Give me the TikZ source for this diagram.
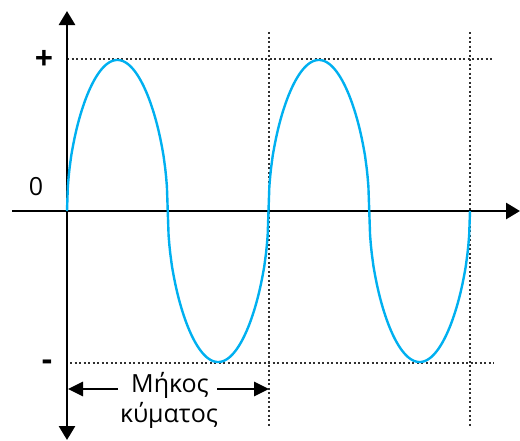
\documentclass[tikz,border=0pt]{standalone}
\usepackage{fontspec}
\setmainfont{Open Sans}
\usetikzlibrary{arrows.meta}
\definecolor{wavecol}{HTML}{00B0F0}
\definecolor{dotcol}{HTML}{303030}
\tikzset{
  axisline/.style={line width=2.8pt,black,-{Triangle[length=14pt,width=16pt]}},
  guide/.style={line width=1.6pt,dotcol,dash pattern=on 2pt off 2.5pt},
  wave/.style={line width=2.4pt,wavecol,line join=round},
  dimarrow/.style={line width=2.8pt,black,-{Triangle[length=15pt,width=14pt]}},
  lbl/.style={inner sep=0pt,font=\fontsize{25}{28}\selectfont},
  sign/.style={inner sep=0pt,font=\fontsize{32}{34}\selectfont\bfseries},
}
\begin{document}
\begin{tikzpicture}[x=1pt,y=-1pt]
\useasboundingbox (0,0) rectangle (520,440);
% guide coordinates
\coordinate (ptl) at (67,59);
\coordinate (ptr) at (494,59);
\coordinate (pbl) at (70,363);
\coordinate (pbr) at (494,363);
\coordinate (v1t) at (269,32);
\coordinate (v1b) at (269,426);
\coordinate (v2t) at (470,32);
\coordinate (v2b) at (470,426);
\draw[guide] (ptl) -- (ptr);
\draw[guide] (pbl) -- (pbr);
\draw[guide] (v1t) -- (v1b);
\draw[guide] (v2t) -- (v2b);
% axes
\coordinate (o) at (67,211);
\coordinate (yt) at (67,11);
\coordinate (yb) at (67,440);
\coordinate (xl) at (12,211);
\coordinate (xr) at (520,211);
\draw[axisline] (o) -- (yt);
\draw[axisline] (o) -- (yb);
\draw[axisline] (xl) -- (xr);
% wave
\draw[wave] plot[domain=0:720,samples=481] ({67+\x/720*403},{211-151*sign(sin(\x))*max(abs(sin(\x)),0.0001)^0.5});
% labels
\node[sign] (plus) at (44,60) {+};
\node[lbl] (zero) at (36,187) {0};
\node[sign] (minus) at (47,365) {-};
\node[lbl,anchor=base] (mk) at (170,392) {Μήκος};
\node[lbl,anchor=base] (km) at (169,422) {κύματος};
\coordinate (la) at (118,389);
\coordinate (lt) at (68,389);
\coordinate (ra) at (217,389);
\coordinate (rt) at (269,389);
\draw[dimarrow] (la) -- (lt);
\draw[dimarrow] (ra) -- (rt);
\end{tikzpicture}
\end{document}
